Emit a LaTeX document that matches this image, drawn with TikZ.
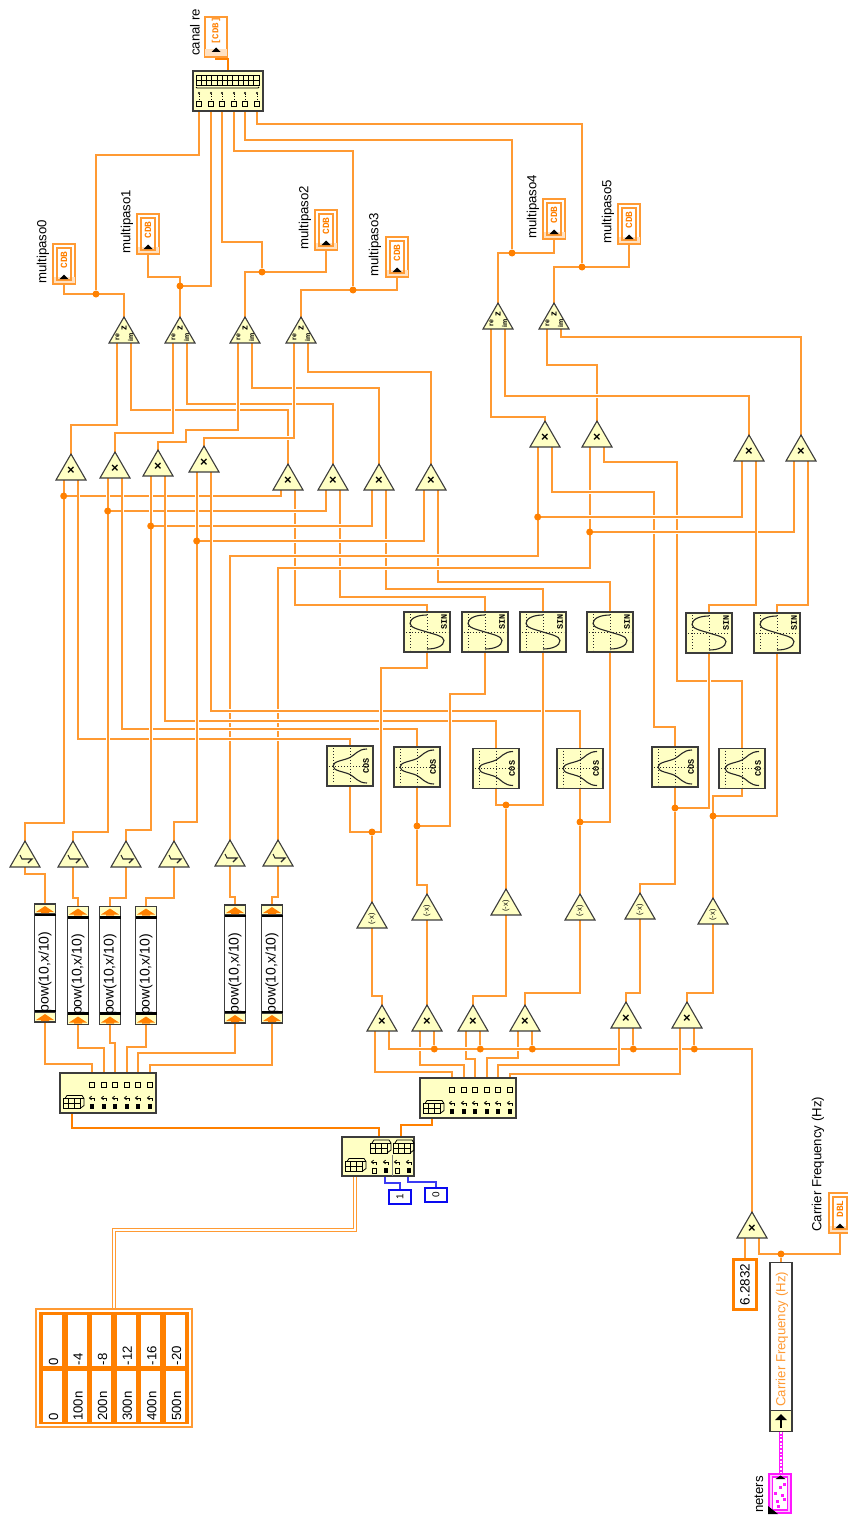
\documentclass[tikz,border=0pt]{standalone}
\usepackage{fontspec}
\setmainfont{Liberation Sans}
\setmonofont{Liberation Mono}
\usetikzlibrary{shapes.geometric,backgrounds}
\definecolor{wirecol}{HTML}{FF9A33}
\definecolor{dotcol}{HTML}{FF8000}
\definecolor{boxfill}{HTML}{FFFFC4}
\definecolor{edgecol}{HTML}{3C3C3C}
\definecolor{bluecol}{HTML}{0A0AF0}
\definecolor{pinkcol}{HTML}{FF19FF}
\tikzset{
  wire/.style={draw=wirecol,line width=1.7pt,preaction={draw=white,line width=3.6pt}},
  thickwire/.style={draw=dotcol,line width=2.6pt},
  dblwire/.style={draw=wirecol,line width=1.4pt,double=white,double distance=1.4pt},
  bluewire/.style={draw=bluecol!80!white,line width=1.4pt},
  pinkwire/.style={draw=pinkcol,line width=3.6pt,postaction={draw=white,line width=1.2pt,dash pattern=on 1.8pt off 1.8pt}},
  dot/.style={circle,fill=dotcol,minimum size=7pt,inner sep=0pt},
  gate/.style={regular polygon,regular polygon sides=3,minimum size=34.64pt,inner sep=0pt,fill=boxfill,draw=edgecol,line width=1.1pt},
  boxnode/.style={rectangle,fill=boxfill,draw=edgecol,line width=1.3pt,inner sep=0pt},
  iconline/.style={draw=black,line width=.8pt},
  axisline/.style={draw=black!85,line width=1pt,dash pattern=on 1pt off 2pt},
  curveline/.style={draw=black!85,line width=1.1pt},
  gatetxt/.style={inner sep=0pt,text=black},
  lbl/.style={rotate=90,anchor=west,inner sep=0pt,font=\fontsize{13.2}{15}\selectfont},
  tinytxt/.style={rotate=90,inner sep=0pt,font=\ttfamily\bfseries\fontsize{8.5}{9}\selectfont},
  indbox/.style={rectangle,draw=wirecol,line width=1.6pt,fill=white,minimum width=22.5pt,minimum height=39.5pt,inner sep=0pt},
  cellbox/.style={rectangle,fill=white,minimum width=19pt,minimum height=51pt,inner sep=0pt}
}
\newcommand{\wirevhv}[4][wire]{\draw[#1] (#2) -- (#2 |- 0,#3) -- (#4 |- 0,#3) -- (#4);}
\newcommand{\wirejog}[5]{\draw[wire] (#1) -- (#1 |- 0,#2) -- (#3,#2) -- (#3,#4) -- (#5 |- 0,#4) -- (#5);}
\newcommand{\gatenode}[3]{
  \node[gate] (#1) at (#2,#3+17.32) {};
  \coordinate (#1t) at (#2,#3);
  \coordinate (#1b) at (#2,#3+26);
  \coordinate (#1l) at (#2-7.3,#3+26);
  \coordinate (#1r) at (#2+7.3,#3+26);
}
\newcommand{\mulnode}[3]{
  \gatenode{#1}{#2}{#3}
  \node[gatetxt,font=\bfseries\fontsize{13}{13}\selectfont] (#1x) at (#2,#3+17) {×};
}
\newcommand{\negnode}[3]{
  \gatenode{#1}{#2}{#3}
  \node[gatetxt,rotate=90,font=\fontsize{7.5}{8}\selectfont] (#1x) at (#2,#3+17) {(-x)};
}
\newcommand{\thrnode}[3]{
  \gatenode{#1}{#2}{#3}
  \draw[curveline] (#2-5,#3+14) -- (#2-3,#3+18) -- (#2+7,#3+18) -- (#2+3,#3+22);
}
\newcommand{\renode}[3]{
  \gatenode{#1}{#2}{#3}
  \node[gatetxt,rotate=90,font=\bfseries\fontsize{9.5}{10}\selectfont] (#1z) at (#2,#3+11) {z};
  \node[gatetxt,rotate=90,font=\bfseries\fontsize{7}{7}\selectfont] (#1e) at (#2-6.5,#3+20) {re};
  \node[gatetxt,rotate=90,font=\bfseries\fontsize{7}{7}\selectfont] (#1i) at (#2+6.5,#3+20) {im};
}
\newcommand{\sinnode}[3]{
  \node[boxnode,minimum width=46pt,minimum height=40pt] (#1) at (#2,#3) {};
  \begin{scope}[shift={(#2,#3)}]
    \draw[axisline] (-21,0) -- (21,0);
    \draw[axisline] (-17,-18) -- (-17,18);
    \draw[axisline] (0,-18) -- (0,18);
    \draw[curveline] (0,-17) .. controls (-9,-17) and (-17,-14) .. (-17,-8.5) .. controls (-17,-4) and (-6,-2) .. (0,0) .. controls (6,2) and (17,4) .. (17,8.5) .. controls (17,14) and (9,17) .. (0,17);
    \node[tinytxt] (#1x) at (17,-10) {SIN};
  \end{scope}
}
\newcommand{\cosnode}[3]{
  \node[boxnode,minimum width=46pt,minimum height=40pt] (#1) at (#2,#3) {};
  \begin{scope}[shift={(#2,#3)}]
    \draw[axisline] (-21,0) -- (21,0);
    \draw[axisline] (-17,-18) -- (-17,18);
    \draw[axisline] (0,-18) -- (0,18);
    \draw[curveline] (17,-17) .. controls (8,-17) and (5,-11) .. (0,-8.5) .. controls (-6,-5.5) and (-17,-5) .. (-17,0) .. controls (-17,5) and (-6,5.5) .. (0,8.5) .. controls (5,11) and (8,17) .. (17,17);
    \node[tinytxt] (#1x) at (16,0) {COS};
  \end{scope}
}
\newcommand{\capicon}[2]{
  \fill[dotcol] (#1-9,#2+3) -- (#1,#2-3) -- (#1+9,#2+3) -- (#1+4,#2+3) -- (#1+4,#2+4) -- (#1-4,#2+4) -- (#1-4,#2+3) -- cycle;
}
\newcommand{\pownode}[3]{
  \node[boxnode,fill=white,minimum width=21pt,minimum height=118pt] (#1) at (#2,#3) {};
  \draw[boxnode] (#2-10.5,#3-59) rectangle (#2+10.5,#3-49);
  \draw[boxnode] (#2-10.5,#3+49) rectangle (#2+10.5,#3+59);
  \draw[black,line width=2.2pt] (#2-10.5,#3-48) -- (#2+10.5,#3-48);
  \draw[black,line width=2.2pt] (#2-10.5,#3+48) -- (#2+10.5,#3+48);
  \capicon{#2}{#3-54}
  \capicon{#2}{#3+54}
  \node[rotate=90,inner sep=0pt,font=\fontsize{14}{15}\selectfont] (#1x) at (#2,#3+9) {pow(10,x/10)};
}
\newcommand{\gridicon}[2]{
  \draw[iconline] (#1,#2+3) rectangle (#1+17,#2+13);
  \draw[iconline] (#1+5.5,#2+3) -- (#1+5.5,#2+13);
  \draw[iconline] (#1+11,#2+3) -- (#1+11,#2+13);
  \draw[iconline] (#1,#2+8) -- (#1+17,#2+8);
  \draw[iconline] (#1+2,#2+3) -- (#1+4,#2) -- (#1+19,#2) -- (#1+21,#2+3) -- (#1+21,#2+10) -- (#1+17,#2+13);
  \draw[iconline] (#1+17,#2+3) -- (#1+21,#2+3);
}
\newcommand{\hookicon}[2]{
  \draw[iconline] (#1+2,#2+3) -- (#1+2,#2) -- (#1-2.5,#2);
  \draw[iconline] (#1-.5,#2-1.8) -- (#1-2.5,#2) -- (#1-.5,#2+1.8);
}
\newcommand{\splitnode}[3]{
  \node[boxnode,minimum width=96pt,minimum height=40pt] (#1) at (#2,#3) {};
  \begin{scope}[shift={(#2-48,#3-20)}]
    \foreach \i/\dx in {1/32,2/44,3/55,4/67,5/78,6/90}{
      \coordinate (#1\i) at (\dx,0);
      \draw[iconline,line width=1pt] (\dx-2.7,9.5) rectangle (\dx+2.7,14.5);
      \hookicon{\dx}{25}
      \fill[black] (\dx-2,31) rectangle (\dx+2,36);
    }
    \coordinate (#1o) at (12,40);
    \gridicon{3}{22.5}
  \end{scope}
}
\newcommand{\indnode}[4]{
  \node[indbox] (#1) at (#2,#3+20) {};
  \fill[wirecol!30] (#2-10.5,#3+33) rectangle (#2+10.5,#3+38.5);
  \draw[draw=wirecol,line width=1.2pt] (#2-7,#3+4) rectangle (#2+7,#3+36);
  \node[tinytxt,text=dotcol,font=\ttfamily\bfseries\fontsize{9.5}{10}\selectfont] (#1x) at (#2,#3+16) {#4};
  \fill[black] (#2-4.5,#3+35) -- (#2+4.5,#3+35) -- (#2,#3+30.5) -- cycle;
}
\begin{document}
\begin{tikzpicture}[x=1pt,y=-1pt]
  \useasboundingbox (0,0) rectangle (848,1517);

  \node[indbox] (canal) at (216,37) {};
  \fill[wirecol!30] (205,49) rectangle (227,56);
  \node[tinytxt,text=dotcol,font=\ttfamily\bfseries\fontsize{9}{10}\selectfont] (canalx) at (216,31) {[CDB]};
  \fill[black] (211.5,52) -- (220.5,52) -- (216,47.5) -- cycle;
  \node[lbl] (canallbl) at (195,56) {canal re};

  \node[boxnode,minimum width=70pt,minimum height=40pt] (build) at (228,91) {};
  \coordinate (buildt) at (228,71);
  \draw[iconline,line width=1pt] (196,75.5) rectangle (259,86);
  \foreach \i in {1,...,11}{\draw[iconline] (196+5.25*\i,75.5) -- (196+5.25*\i,86);}
  \draw[iconline] (196,80.5) -- (259,80.5);
  \draw[iconline] (196,87) -- (197,88) -- (258,88) -- (259,87);
  \foreach \i/\dx in {1/199,2/211,3/222,4/234,5/245,6/257}{
    \coordinate (build\i) at (\dx,111);
    \fill[black] (\dx,93) circle (1.2);
    \draw[black,line width=.7pt,dash pattern=on 1pt off 1.5pt] (\dx,94) -- (\dx,100);
    \draw[iconline,line width=1pt] (\dx-2.7,101.5) rectangle (\dx+2.7,107);
  }

  \indnode{mp0}{64}{244}{CDB}
  \indnode{mp1}{148}{214}{CDB}
  \indnode{mp2}{326}{210}{CDB}
  \indnode{mp3}{397}{237}{CDB}
  \indnode{mp4}{554}{199}{CDB}
  \indnode{mp5}{629}{204}{CDB}
  \node[lbl] (mp0lbl) at (43,284) {multipaso0};
  \node[lbl] (mp1lbl) at (127,254) {multipaso1};
  \node[lbl] (mp2lbl) at (305,250) {multipaso2};
  \node[lbl] (mp3lbl) at (375,277) {multipaso3};
  \node[lbl] (mp4lbl) at (533,239) {multipaso4};
  \node[lbl] (mp5lbl) at (608,244) {multipaso5};

  \foreach \n/\px/\py in {re0/124/317,re1/180/317,re2/245/317,re3/301/317,re4/498/303,re5/554/303}{\renode{\n}{\px}{\py}}
  \foreach \n/\px/\py in {m1/71/454,m2/115/452,m3/158/450,m4/204/446,m5/288/464,m6/333/464,m7/379/464,m8/431/464,m9/545/421,m10/597/421,m11/749/435,m12/801/435,g1/382/1005,g2/427/1005,g3/473/1005,g4/525/1005,g5/626/1002,g6/687/1002,m0/752/1212}{\mulnode{\n}{\px}{\py}}
  \foreach \n/\px/\py in {neg1/372/902,neg2/427/894,neg3/506/889,neg4/580/894,neg5/640/893,neg6/713/898}{\negnode{\n}{\px}{\py}}
  \foreach \n/\px/\py in {thr1/25/841,thr2/73/841,thr3/126/841,thr4/174/841,thr5/230/840,thr6/278/840}{\thrnode{\n}{\px}{\py}}
  \foreach \n/\px/\py in {sin1/427/632,sin2/485/632,sin3/543/632,sin4/610/632,sin5/709/633,sin6/777/633}{\sinnode{\n}{\px}{\py}}
  \foreach \n/\px/\py in {cos1/350/766,cos2/417/767,cos3/496/768.5,cos4/580/768.5,cos5/675/767,cos6/742/768.5}{\cosnode{\n}{\px}{\py}}
  \foreach \n/\px/\py in {pow1/45/963,pow2/78/965.5,pow3/110/965.5,pow4/146/965.5,pow5/235/964,pow6/272/964}{\pownode{\n}{\px}{\py}}
  \splitnode{sa}{108}{1093}
  \splitnode{sb}{468}{1098}

  \node[boxnode,minimum width=72pt,minimum height=39pt] (idx) at (378,1156.5) {};
  \coordinate (idxa) at (379,1137);
  \coordinate (idxb) at (401,1137);
  \coordinate (idxc) at (355,1176);
  \coordinate (idxd) at (385,1176);
  \coordinate (idxe) at (408,1176);
  \gridicon{345}{1158.5}
  \gridicon{370}{1140}
  \gridicon{393}{1140}
  \foreach \dx in {374,386,397,409}{\hookicon{\dx}{1162}}
  \draw[iconline] (372,1168) rectangle (376,1173);
  \draw[iconline] (395,1168) rectangle (399,1173);
  \fill[black] (384,1168) rectangle (388,1173);
  \fill[black] (407,1168) rectangle (411,1173);
  \draw[draw=black!50,line width=.7pt] (392.5,1155) -- (392.5,1176);

  \node[rectangle,draw=bluecol,line width=2.2pt,fill=white,minimum width=22pt,minimum height=14pt,inner sep=0pt] (konst1) at (400,1197) {};
  \node[rotate=90,inner sep=0pt,font=\fontsize{10}{11}\selectfont] (konst1x) at (400,1197) {1};
  \node[rectangle,draw=bluecol,line width=2.2pt,fill=white,minimum width=22pt,minimum height=14pt,inner sep=0pt] (konst0) at (436,1195) {};
  \node[rotate=90,inner sep=0pt,font=\fontsize{10}{11}\selectfont] (konst0x) at (436,1195) {0};

  \node[rectangle,draw=wirecol,line width=1.3pt,fill=white,minimum width=156pt,minimum height=118pt,inner sep=0pt] (tbl) at (114,1368) {};
  \fill[dotcol] (39,1312) rectangle (189,1424);
  \foreach \i/\va/\vb in {0/0/0,1/-4/100n,2/-8/200n,3/-12/300n,4/-16/400n,5/-20/500n}{
    \node[cellbox] (celltop\i) at (52.5+24.6*\i,1340.5) {};
    \node[cellbox] (cellbot\i) at (52.5+24.6*\i,1396.5) {};
    \node[lbl] (txttop\i) at (53.5+24.6*\i,1365.5) {\va};
    \node[lbl] (txtbot\i) at (53.5+24.6*\i,1421) {\vb};
  }

  \node[rectangle,draw=dotcol,line width=2.4pt,fill=white,minimum width=23pt,minimum height=50pt,inner sep=0pt] (twopi) at (745,1284.5) {};
  \node[rotate=90,inner sep=0pt,font=\fontsize{13.5}{15}\selectfont] (twopix) at (745,1284.5) {6.2832};
  \indnode{dbl}{840}{1193}{DBL}
  \node[lbl] (dbllbl) at (818,1232) {Carrier Frequency (Hz)};

  \node[boxnode,draw=edgecol,fill=white,minimum width=22pt,minimum height=168.5pt] (cfreq) at (781,1347) {};
  \draw[boxnode] (770,1410.7) rectangle (792,1431.2);
  \draw[black,line width=2.2pt] (781,1428) -- (781,1418);
  \fill[black] (775,1420) -- (781,1414) -- (787,1420) -- cycle;
  \node[lbl,text=wirecol] (cfreqx) at (782,1407) {Carrier Frequency (Hz)};

  \node[rectangle,draw=pinkcol,line width=1.6pt,fill=pinkcol!25,minimum width=22pt,minimum height=39pt,inner sep=0pt] (prm) at (780,1493.5) {};
  \draw[draw=pinkcol,line width=1.1pt,fill=white] (772.5,1477) rectangle (787.5,1510);
  \foreach \dx/\dy in {774/1492,779/1486,783/1483,781/1494,776/1500,783/1498,777/1505}{\fill[pinkcol] (\dx,\dy) rectangle (\dx+3,\dy+3);}
  \fill[black] (775.5,1479) -- (785.5,1479) -- (780.5,1475.5) -- cycle;
  \fill[black] (768,1514) -- (768,1506) -- (778,1514) -- cycle;
  \node[lbl] (prmlbl) at (759,1513) {neters};

  \node[dot] (d0) at (96,294) {};
  \node[dot] (d1) at (180,286) {};
  \node[dot] (d2) at (262,272) {};
  \node[dot] (d3) at (353,290) {};
  \node[dot] (d4) at (512,253) {};
  \node[dot] (d5) at (582,267) {};
  \node[dot] (dm1) at (63.7,496) {};
  \node[dot] (dm2) at (107.7,511) {};
  \node[dot] (dm3) at (150.7,526) {};
  \node[dot] (dm4) at (196.7,541) {};
  \node[dot] (dm9) at (537.7,517) {};
  \node[dot] (dm10) at (589.7,532) {};
  \node[dot] (dc1) at (372,832) {};
  \node[dot] (dc2) at (417,826) {};
  \node[dot] (dc3) at (506,805) {};
  \node[dot] (dc4) at (580,822) {};
  \node[dot] (dc5) at (675,808) {};
  \node[dot] (dc6) at (713,816) {};
  \node[dot] (dg2) at (434.3,1049) {};
  \node[dot] (dg3) at (480.3,1049) {};
  \node[dot] (dg4) at (532.3,1049) {};
  \node[dot] (dg5) at (633.3,1049) {};
  \node[dot] (dg6) at (694.3,1049) {};
  \node[dot] (df) at (781,1254) {};

  \begin{pgfonlayer}{background}
    \wirevhv[thickwire]{canal.south}{59}{buildt}
    \wirevhv{build1}{155}{d0}
    \wirevhv{build2}{286}{d1}
    \wirevhv{build3}{242}{d2}
    \wirevhv{build4}{151}{d3}
    \wirevhv{build5}{140}{d4}
    \wirevhv{build6}{124}{d5}
    \wirevhv{mp0.south}{294}{re0t}
    \wirevhv{mp1.south}{277}{re1t}
    \wirevhv{mp2.south}{272}{re2t}
    \wirevhv{mp3.south}{290}{re3t}
    \wirevhv{mp4.south}{253}{re4t}
    \wirevhv{mp5.south}{267}{re5t}

    \wirevhv{re0r}{410}{m5t}
    \wirevhv{re1r}{404}{m6t}
    \wirevhv{re2r}{388}{m7t}
    \wirevhv{re3r}{372}{m8t}
    \wirevhv{re0l}{425}{m1t}
    \wirevhv{re1l}{433}{m2t}
    \wirejog{re2l}{430}{186}{442}{m3t}
    \wirevhv{re3l}{438}{m4t}
    \wirevhv{re5l}{365}{m10t}
    \wirevhv{re4r}{396}{m11t}
    \wirevhv{re4l}{417}{m9t}
    \wirevhv{re5r}{337}{m12t}

    \wirevhv{m5r}{605}{sin1.north}
    \wirevhv{m6r}{597}{sin2.north}
    \wirevhv{m7r}{589}{sin3.north}
    \wirevhv{m8r}{582}{sin4.north}
    \wirevhv{m10l}{568}{thr6t}
    \wirejog{m9r}{492}{654}{727}{cos5.north}
    \wirejog{m10r}{462}{677}{681}{cos6.north}
    \draw[wire] (dm1) -| (m5l);
    \draw[wire] (dm2) -| (m6l);
    \draw[wire] (dm3) -| (m7l);
    \draw[wire] (dm4) -| (m8l);
    \wirevhv{m9l}{556}{thr5t}
    \draw[wire] (dm9) -| (m11l);
    \draw[wire] (dm10) -| (m12l);
    \wirevhv{m11r}{605}{sin5.north}
    \wirevhv{m12r}{605}{sin6.north}

    \wirevhv{m4r}{711}{cos4.north}
    \wirevhv{m3r}{721}{cos3.north}
    \wirevhv{m2r}{729}{cos2.north}
    \wirevhv{m1r}{739}{cos1.north}
    \wirevhv{m1l}{823}{thr1t}
    \wirevhv{m2l}{832}{thr2t}
    \wirevhv{m3l}{830}{thr3t}
    \wirevhv{m4l}{822}{thr4t}

    \wirejog{cos1.south}{832}{381}{668}{sin1.south}
    \wirejog{cos2.south}{826}{450}{694}{sin2.south}
    \wirevhv{cos3.south}{805}{sin3.south}
    \wirevhv{cos4.south}{822}{sin4.south}
    \wirevhv{cos5.south}{808}{sin5.south}
    \wirevhv{cos6.south}{796}{neg6t}
    \wirevhv{sin6.south}{816}{dc6}

    \draw[wire] (dc1) -- (neg1t);
    \wirevhv{dc2}{885}{neg2t}
    \draw[wire] (dc3) -- (neg3t);
    \draw[wire] (dc4) -- (neg4t);
    \wirevhv{dc5}{884}{neg5t}

    \wirevhv{neg1b}{996}{g1t}
    \draw[wire] (neg2b) -- (g2t);
    \wirevhv{neg3b}{996}{g3t}
    \wirevhv{neg4b}{993}{g4t}
    \wirevhv{neg5b}{993}{g5t}
    \wirevhv{neg6b}{993}{g6t}

    \wirevhv{g1l}{1072}{sb1}
    \wirevhv{g2l}{1065}{sb2}
    \wirevhv{g3l}{1059}{sb3}
    \wirevhv{g4l}{1058}{sb4}
    \draw[wire] (g2r) -- (dg2);
    \draw[wire] (g3r) -- (dg3);
    \draw[wire] (g4r) -- (dg4);
    \draw[wire] (g5r) -- (dg5);
    \draw[wire] (g6r) -- (dg6);
    \wirevhv{g1r}{1049}{m0t}
    \wirevhv{g5l}{1065}{sb5}
    \wirevhv{g6l}{1074}{sb6}

    \wirevhv{thr1b}{874}{pow1.north}
    \wirevhv{thr2b}{898}{pow2.north}
    \wirevhv{thr3b}{898}{pow3.north}
    \wirevhv{thr4b}{898}{pow4.north}
    \wirevhv{thr5b}{897}{pow5.north}
    \wirevhv{thr6b}{897}{pow6.north}
    \wirevhv{pow1.south}{1064}{sa1}
    \wirevhv{pow2.south}{1048}{sa2}
    \wirevhv{pow3.south}{1043}{sa3}
    \wirevhv{pow4.south}{1047}{sa4}
    \wirevhv{pow5.south}{1053}{sa5}
    \wirevhv{pow6.south}{1065}{sa6}

    \wirevhv[thickwire]{sao}{1128}{idxa}
    \wirevhv[thickwire]{sbo}{1125}{idxb}
    \wirevhv[bluewire]{idxd}{1183}{konst1.north}
    \wirevhv[bluewire]{idxe}{1182}{konst0.north}
    \wirevhv[dblwire]{idxc}{1230}{tbl.north}

    \draw[wire] (m0l) -- (twopi.north -| m0l);
    \wirevhv{m0r}{1254}{dbl.south}
    \draw[wire] (df) -- (cfreq.north);
    \draw[pinkwire] (cfreq.south) -- (prm.north -| cfreq.south);
  \end{pgfonlayer}
\end{tikzpicture}
\end{document}
